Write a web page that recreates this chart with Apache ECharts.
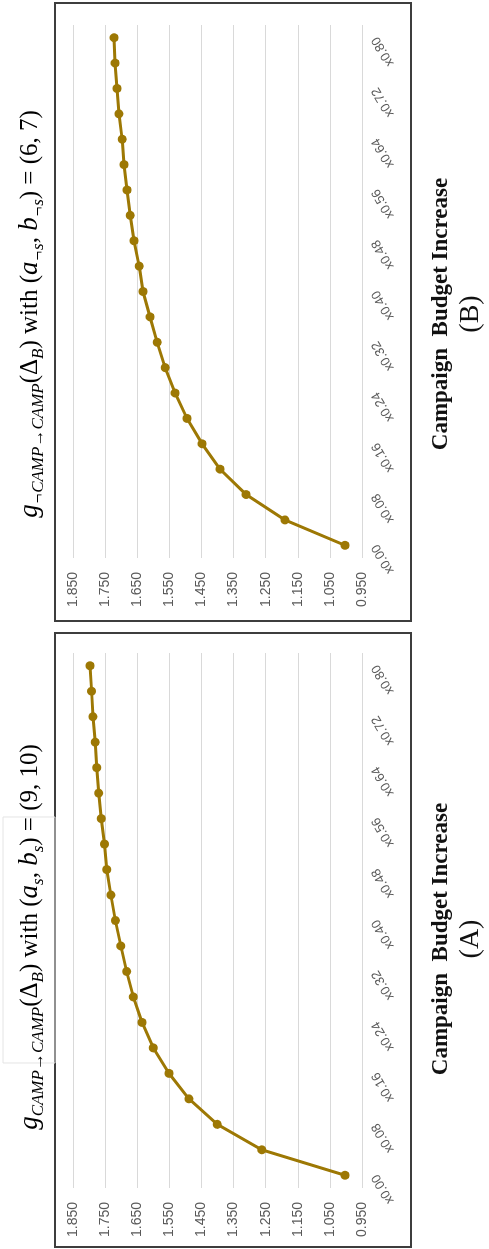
<!DOCTYPE html>
<html>
<head>
<meta charset="utf-8">
<script src="https://cdn.jsdelivr.net/npm/echarts@6/dist/echarts.min.js"></script>
<style>
  html, body { margin: 0; padding: 0; background: #fff; overflow: hidden; }
  /* the figure is drawn upright and turned a quarter turn, like the scan */
  #wrap {
    position: absolute; left: 0; top: 0;
    width: 1249px; height: 489px;
    transform-origin: 0 0;
    transform: translate(0, 1249px) rotate(-90deg);
  }
</style>
</head>
<body>
<div id="wrap"></div>
<script>
var budgetSteps = ['x0.00', 'x0.04', 'x0.08', 'x0.12', 'x0.16', 'x0.20', 'x0.24',
  'x0.28', 'x0.32', 'x0.36', 'x0.40', 'x0.44', 'x0.48', 'x0.52', 'x0.56',
  'x0.60', 'x0.64', 'x0.68', 'x0.72', 'x0.76', 'x0.80'];

// (A) g CAMP->CAMP, (a_s, b_s) = (9, 10)
var gainA = [1.003, 1.262, 1.401, 1.489, 1.551, 1.600, 1.635, 1.662, 1.683, 1.701,
  1.718, 1.732, 1.745, 1.752, 1.762, 1.770, 1.776, 1.781, 1.788, 1.792, 1.797];

// (B) g notCAMP->CAMP, (a_-s, b_-s) = (6, 7)
var gainB = [1.003, 1.190, 1.311, 1.392, 1.448, 1.495, 1.532, 1.563, 1.588, 1.610,
  1.632, 1.644, 1.660, 1.672, 1.682, 1.691, 1.697, 1.707, 1.713, 1.719, 1.722];

var valueMin = 0.95;
var valueMax = 1.85;
var valueStep = 0.1;

var lineColor = '#9d7804';
var mathFont = '"Liberation Serif", "DejaVu Serif", serif';

var mathRich = {
  i:   { fontFamily: mathFont, fontStyle: 'italic', fontSize: 27, color: '#111', lineHeight: 34 },
  n:   { fontFamily: mathFont, fontSize: 25, color: '#111', lineHeight: 34 },
  sub: { fontFamily: mathFont, fontStyle: 'italic', fontSize: 17, color: '#111', lineHeight: 16, padding: [18, 0, 0, 0] }
};

var myChart = echarts.init(document.getElementById('wrap'));

function catAxis(idx) {
  return {
    type: 'category',
    gridIndex: idx,
    data: budgetSteps,
    boundaryGap: true,
    axisLine: { show: false },
    axisTick: { show: false },
    splitLine: { show: false },
    axisLabel: {
      interval: 1,
      rotate: 30,
      margin: 13,
      fontSize: 13,
      color: '#595959',
      fontFamily: '"Liberation Sans", Arial, sans-serif'
    }
  };
}

function valAxis(idx) {
  return {
    type: 'value',
    gridIndex: idx,
    min: valueMin,
    max: valueMax,
    interval: valueStep,
    axisLine: { show: false },
    axisTick: { show: false },
    splitLine: { show: true, lineStyle: { color: '#d9d9d9', width: 1.2 } },
    axisLabel: {
      margin: 14,
      fontSize: 14,
      color: '#595959',
      fontFamily: '"Liberation Sans", Arial, sans-serif',
      formatter: function (v) { return v.toFixed(3); }
    }
  };
}

var option = {
  backgroundColor: '#fff',
  animation: false,
  grid: [
    { left: 61, top: 73, width: 535, height: 289 },
    { left: 691, top: 73, width: 533, height: 289 }
  ],
  xAxis: [catAxis(0), catAxis(1)],
  yAxis: [valAxis(0), valAxis(1)],
  series: [{
    type: 'line',
    xAxisIndex: 0,
    yAxisIndex: 0,
    data: gainA,
    symbol: 'circle',
    symbolSize: 9,
    lineStyle: { color: lineColor, width: 3 },
    itemStyle: { color: lineColor }
  }, {
    type: 'line',
    xAxisIndex: 1,
    yAxisIndex: 1,
    data: gainB,
    symbol: 'circle',
    symbolSize: 9,
    lineStyle: { color: lineColor, width: 3 },
    itemStyle: { color: lineColor }
  }],
  graphic: [
    // plot frames
    { type: 'rect', shape: { x: 2, y: 55, width: 614, height: 356 },
      style: { fill: 'none', stroke: '#3d3d3d', lineWidth: 2 } },
    { type: 'rect', shape: { x: 628, y: 55, width: 618, height: 356 },
      style: { fill: 'none', stroke: '#3d3d3d', lineWidth: 2 } },
    // faint box left over round the pasted formula
    { type: 'rect', shape: { x: 186, y: 3, width: 246, height: 52 },
      style: { fill: 'none', stroke: '#e4e4e4', lineWidth: 1 } },
    // titles
    { type: 'text', x: 312, y: 30,
      style: {
        text: '{i|g}{sub|CAMP→CAMP}{n|(Δ}{sub|B}{n|) with (}{i|a}{sub|s}{n|, }{i|b}{sub|s}{n|) = (9, 10)}',
        rich: mathRich, align: 'center', verticalAlign: 'middle'
      } },
    { type: 'text', x: 935, y: 30,
      style: {
        text: '{i|g}{sub|¬CAMP→CAMP}{n|(Δ}{sub|B}{n|) with (}{i|a}{sub|¬s}{n|, }{i|b}{sub|¬s}{n|) = (6, 7)}',
        rich: mathRich, align: 'center', verticalAlign: 'middle'
      } },
    // axis captions
    { type: 'text', x: 310, y: 441,
      style: { text: 'Campaign  Budget Increase', align: 'center', verticalAlign: 'middle',
        font: 'bold 23px "Liberation Serif", serif', fill: '#111' } },
    { type: 'text', x: 310, y: 471,
      style: { text: '(A)', align: 'center', verticalAlign: 'middle',
        font: '28px "Liberation Serif", serif', fill: '#111' } },
    { type: 'text', x: 935, y: 441,
      style: { text: 'Campaign  Budget Increase', align: 'center', verticalAlign: 'middle',
        font: 'bold 23px "Liberation Serif", serif', fill: '#111' } },
    { type: 'text', x: 935, y: 471,
      style: { text: '(B)', align: 'center', verticalAlign: 'middle',
        font: '28px "Liberation Serif", serif', fill: '#111' } }
  ]
};

myChart.setOption(option);
</script>
</body>
</html>
